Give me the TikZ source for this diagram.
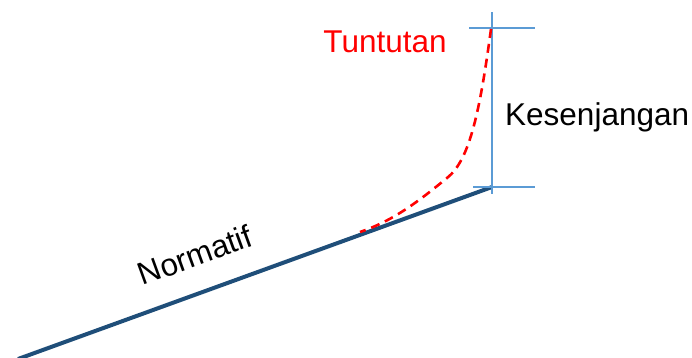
\documentclass[tikz,border=0pt]{standalone}
\usepackage{fontspec}
\setmainfont{Liberation Sans}
\definecolor{navy}{RGB}{31,78,121}
\definecolor{lblue}{RGB}{91,155,213}
\definecolor{tred}{RGB}{255,0,0}
\begin{document}
\begin{tikzpicture}[x=1pt,y=-1pt,
  lbl/.style={inner sep=0pt,font=\fontsize{31.5}{36}\selectfont},
  mainline/.style={draw=navy,line width=4pt},
  tick/.style={draw=lblue,line width=1.3pt},
  curve/.style={draw=tred,line width=2.6pt,dash pattern=on 9pt off 6pt}]
\useasboundingbox (0,0) rectangle (692,357);
\coordinate (start) at (18,359);
\coordinate (knee) at (492,187);
\coordinate (vtop) at (492,12);
\coordinate (vbot) at (492,194);
\coordinate (ttl) at (469,28);
\coordinate (ttr) at (535,28);
\coordinate (tbl) at (473,187);
\coordinate (tbr) at (535,187);
\coordinate (cstart) at (491,29);
\coordinate (cmid) at (447,178);
\coordinate (cend) at (360,232);
\draw[mainline] (start) -- (knee);
\draw[tick] (vtop) -- (vbot);
\draw[tick] (ttl) -- (ttr);
\draw[tick] (tbl) -- (tbr);
\draw[curve] (cstart) .. controls (480,110) and (470,160) .. (cmid) .. controls (420,200) and (395,220) .. (cend);
\node[lbl,text=tred,anchor=base] (tuntutan) at (385,52) {Tuntutan};
\node[lbl,anchor=base west] (kes) at (505,125) {Kesenjangan};
\node[lbl,anchor=center,rotate=20] (norm) at (195,255) {Normatif};
\end{tikzpicture}
\end{document}
